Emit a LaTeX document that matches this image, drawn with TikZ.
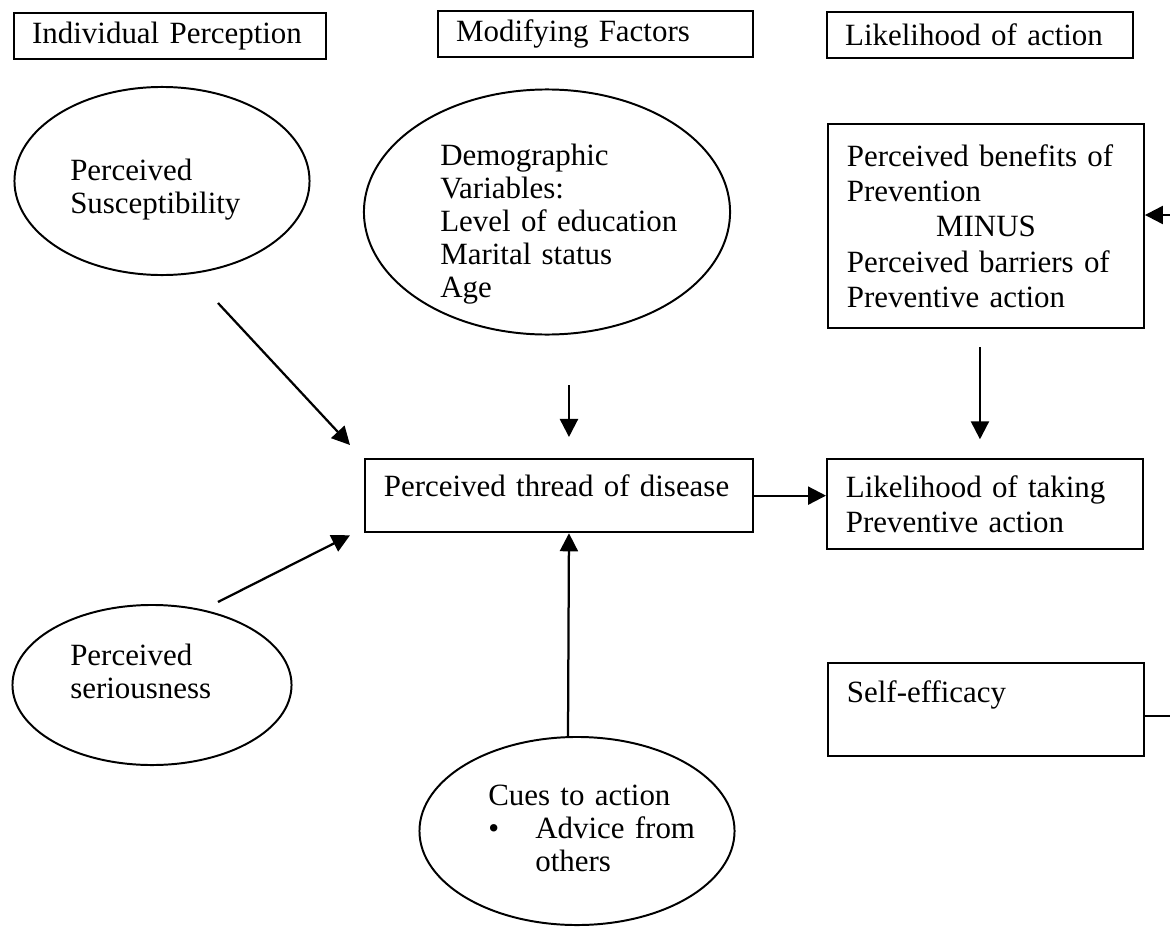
\documentclass[tikz,border=0pt]{standalone}
\usepackage{fontspec}
\setmainfont{Liberation Serif}
\usetikzlibrary{arrows.meta,calc,positioning,shapes.geometric}

\begin{document}
\begin{tikzpicture}[
  x=0.025cm, y=-0.025cm,
  font=\fontsize{22}{25}\selectfont,
  >={Triangle[length=0.45cm,width=0.45cm]},
  line/.style={line width=1.6pt,draw=black},
  arr/.style={line,->},
  head/.style={draw,line width=1.6pt,anchor=north west,align=left,
               minimum height=1.15cm,inner xsep=0.45cm,inner ysep=0pt},
  factor/.style={draw,line width=1.6pt,anchor=north west,align=left,
                 inner xsep=0.47cm,inner ysep=0pt,text width=6.95cm},
  belief/.style={ellipse,draw,line width=1.4pt,inner sep=0pt},
  txt/.style={anchor=base west,align=left,inner sep=0pt,text width=6.5cm,
              font=\fontsize{22}{23.5}\selectfont}
]
\useasboundingbox (0,0) rectangle (1170,933);

% column headings
\node[head,text width=6.9cm] (hdrInd) at (13,12) {Individual Perception};
\node[head,text width=6.975cm] (hdrMod) at (437,10) {Modifying Factors};
\node[head,text width=6.75cm] (hdrLik) at (826,11) {Likelihood of action};

% individual perception
\node[belief,minimum width=7.375cm,minimum height=4.7cm] (susc) at (162,181) {};
\node[txt] (suscTxt) at (70,180) {Perceived\\Susceptibility};
\node[belief,minimum width=6.975cm,minimum height=4cm] (serious) at (152,685) {};
\node[txt] (seriousTxt) at (70,665) {Perceived\\seriousness};

% modifying factors
\node[belief,minimum width=9.15cm,minimum height=6.125cm] (demo) at (547,212) {};
\node[txt] (demoTxt) at (440,165)
  {Demographic\\Variables:\\Level of education\\Marital status\\Age};
\node[factor,text width=8.75cm,minimum height=1.825cm,text depth=0.52cm]
  (thread) at (364,458) {Perceived thread of disease};
\node[belief,minimum width=7.875cm,minimum height=4.7cm] (cues) at (577,831) {};
\node[txt] (cuesTxt) at (488,805)
  {Cues to action\\
   \makebox[1.175cm][l]{\textbullet}Advice from\\
   \hspace*{1.175cm}others};

% likelihood of action
\node[factor,minimum height=5.1cm] (benefits) at (827,123)
  {Perceived benefits of\\Prevention\\\makebox[\linewidth]{MINUS}\\
   Perceived barriers of\\Preventive action};
\node[factor,minimum height=2.25cm] (taking) at (826,458)
  {Likelihood of taking\\Preventive action};
\node[factor,minimum height=2.325cm] (selfeff) at (827,662)
  {Self-efficacy\\\mbox{}};

\coordinate (rimup) at (1170,215);
\coordinate (rimlow) at (1170,716);

\draw[arr] ([shift={(56,27)}]susc.south) -- ([shift={(-14,-13)}]thread.north west);
\draw[arr] ([shift={(66,-2)}]serious.north) -- ([shift={(-14,2)}]thread.south west);
\draw[arr] ([shift={(10,-73)}]thread.north) -- ([shift={(10,-21)}]thread.north);
\draw[arr] ([shift={(-9,0)}]cues.north) -- ([shift={(10,0)}]thread.south);
\draw[arr] (thread.east) -- (thread.east -| taking.west);
\draw[arr] ([shift={(-6,18)}]benefits.south) -- ++(0,92);
\draw[arr] (rimup) -- (rimup -| benefits.east);
\draw[line] (rimlow -| selfeff.east) -- (rimlow);
\end{tikzpicture}
\end{document}
